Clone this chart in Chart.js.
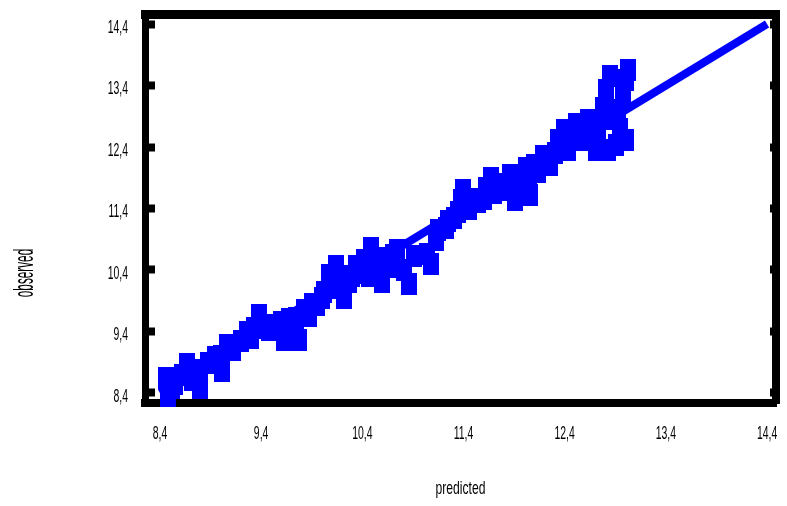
<!DOCTYPE html>
<html><head><meta charset="utf-8">
<script src="https://cdn.jsdelivr.net/npm/chart.js@4"></script>
<style>html,body{margin:0;padding:0;background:#fff;}</style>
</head><body>
<canvas id="c" width="787" height="506"></canvas>
<script>
// ---- data ----
const predicted = [8.459, 8.479, 8.518, 8.666, 8.715, 8.793, 8.793, 8.941, 9.010, 9.059,
  9.256, 9.334, 9.384, 9.482, 9.600, 9.629, 9.747, 9.777, 9.875, 9.954,
  10.023, 10.072, 10.102, 10.141, 10.220, 10.269, 10.338, 10.417, 10.466, 10.485,
  10.594, 10.623, 10.741, 10.810, 10.859, 10.908, 11.036, 11.076, 11.125, 11.223,
  11.302, 11.371, 11.400, 11.548, 11.627, 11.676, 11.794, 11.863, 11.912, 11.962,
  12.020, 12.059, 12.138, 12.187, 12.256, 12.335, 12.394, 12.433, 12.512, 12.580,
  12.630, 12.708, 12.728, 12.777, 12.807, 12.826, 12.846, 12.905, 12.925, 12.974,
  13.003, 13.003, 13.023,
  8.55, 8.62, 8.88, 9.00, 9.12, 9.20, 9.30, 9.45, 9.55, 9.68,
  9.82, 9.90, 10.00, 10.10, 10.18, 10.30, 10.38, 10.50, 10.55, 10.65,
  10.70, 11.15, 11.25, 11.35, 11.45, 11.52, 11.60, 11.70, 11.75, 11.85,
  11.95, 12.05, 12.10, 12.20, 12.30, 12.40, 12.45, 12.55, 12.65, 12.70,
  12.85, 12.90, 12.95];
const observed = [8.644, 8.351, 8.481, 8.872, 8.611, 8.774, 8.481, 8.985, 8.758, 9.180,
  9.392, 9.457, 9.668, 9.424, 9.555, 9.262, 9.620, 9.262, 9.652, 9.831,
  10.042, 10.319, 10.107, 10.465, 9.945, 10.205, 10.465, 10.563, 10.302, 10.758,
  10.205, 10.595, 10.725, 10.400, 10.172, 10.628, 10.660, 10.498, 10.888, 11.083,
  11.246, 11.538, 11.701, 11.506, 11.733, 11.896, 11.701, 11.945, 11.538, 11.798,
  12.059, 11.619, 11.994, 12.254, 12.107, 12.514, 12.677, 12.351, 12.774, 12.514,
  12.839, 12.351, 12.709, 13.034, 13.327, 12.351, 13.554, 12.432, 12.872, 13.197,
  13.489, 12.514, 13.652,
  8.55, 8.70, 8.88, 9.00, 9.10, 9.25, 9.30, 9.50, 9.45, 9.60,
  9.75, 9.85, 9.95, 10.10, 10.22, 10.30, 10.35, 10.45, 10.55, 10.45,
  10.65, 11.05, 11.20, 11.35, 11.40, 11.55, 11.55, 11.65, 11.80, 11.75,
  11.95, 11.90, 12.10, 12.15, 12.30, 12.40, 12.55, 12.60, 12.65, 12.55,
  12.85, 13.00, 12.70];
const fitLineX = [8.4, 14.4];
const fitLineY = [8.4, 14.4];
const xTickValues = [8.4, 9.4, 10.4, 11.4, 12.4, 13.4, 14.4];
const yTickValues = [8.4, 9.4, 10.4, 11.4, 12.4, 13.4, 14.4];
const xTickLabels = ['8,4', '9,4', '10,4', '11,4', '12,4', '13,4', '14,4'];
const yTickLabels = ['8,4', '9,4', '10,4', '11,4', '12,4', '13,4', '14,4'];
const xTitle = 'predicted';
const yTitle = 'observed';

// ---- styling ----
const FONT = "'Liberation Sans', Arial, sans-serif";
const BLUE = '#0000ff';
const X_MIN = 8.2525, X_MAX = 14.4885, Y_MIN = 8.237, Y_MAX = 14.563;

const marker = document.createElement('canvas');
marker.width = 16; marker.height = 22;
const mctx = marker.getContext('2d');
mctx.fillStyle = BLUE; mctx.fillRect(0, 0, 16, 22);

const canvas = document.getElementById('c');
const ctx2d = canvas.getContext('2d');
const nativeFill = CanvasRenderingContext2D.prototype.fillText;
// narrow (condensed) rendering of the axis texts
ctx2d.fillText = function (t, x, y) {
  const sx = this.font.indexOf('19px') >= 0 ? 0.64 : 0.58;
  this.save();
  this.translate(x, y);
  this.scale(sx, 1);
  nativeFill.call(this, t, 0, 0);
  this.restore();
};

const yTitlePlugin = {
  id: 'yTitle',
  afterDraw(chart) {
    const c = chart.ctx;
    c.save();
    c.translate(25, 273);
    c.rotate(-Math.PI / 2);
    c.scale(0.42, 1);
    c.font = "28px " + FONT;
    c.fillStyle = '#000';
    c.textAlign = 'center';
    c.textBaseline = 'middle';
    nativeFill.call(c, yTitle, 0, 0);
    c.restore();
  }
};

const setX = s => { s.ticks = xTickValues.map(v => ({ value: v })); };
const setY = s => { s.ticks = yTickValues.map(v => ({ value: v })); };
const fitH = h => s => { s.height = h; s.paddingLeft = 0; s.paddingRight = 0; s.paddingTop = 0; s.paddingBottom = 0; };
const fitW = w => s => { s.width = w; s.paddingLeft = 0; s.paddingRight = 0; s.paddingTop = 0; s.paddingBottom = 0; };

new Chart(canvas, {
  type: 'scatter',
  data: {
    datasets: [
      {
        label: 'observed',
        data: predicted.map((x, i) => ({ x: x, y: observed[i] })),
        pointStyle: marker,
        pointRadius: 11,
        backgroundColor: BLUE,
        borderWidth: 0,
        clip: false,
        order: 1
      },
      {
        label: 'fit',
        data: fitLineX.map((x, i) => ({ x: x, y: fitLineY[i] })),
        showLine: true,
        borderColor: BLUE,
        borderWidth: 8,
        borderCapStyle: 'butt',
        pointRadius: 0,
        order: 3
      }
    ]
  },
  options: {
    responsive: false,
    animation: false,
    devicePixelRatio: 1,
    layout: { padding: 0 },
    plugins: { legend: { display: false }, tooltip: { enabled: false } },
    scales: {
      x: {
        type: 'linear', position: 'bottom', min: X_MIN, max: X_MAX, bounds: 'data',
        afterBuildTicks: setX,
        ticks: { callback: (v, i) => xTickLabels[i], padding: 20, autoSkip: false, maxRotation: 0,
                 font: { family: FONT, size: 18 }, color: '#000' },
        grid: { drawOnChartArea: false, drawTicks: false },
        border: { display: true, color: '#000', width: 8 },
        title: { display: true, text: xTitle, color: '#000', font: { family: FONT, size: 19 }, padding: { top: 0, bottom: 6 } },
        afterFit: fitH(103)
      },
      x2: {
        type: 'linear', position: 'top', min: X_MIN, max: X_MAX, bounds: 'data',
        afterBuildTicks: setX,
        ticks: { display: false },
        grid: { drawOnChartArea: false, drawTicks: false },
        border: { display: true, color: '#000', width: 9 },
        afterFit: fitH(14)
      },
      y: {
        type: 'linear', position: 'left', min: Y_MIN, max: Y_MAX, bounds: 'data',
        afterBuildTicks: setY,
        ticks: { callback: (v, i) => yTickLabels[i], padding: 27, labelOffset: 4, autoSkip: false,
                 font: { family: FONT, size: 18 }, color: '#000' },
        grid: { drawOnChartArea: false, drawTicks: true, tickLength: -10, tickWidth: 8, tickColor: '#000' },
        border: { display: true, color: '#000', width: 7 },
        afterFit: fitW(145)
      },
      y2: {
        type: 'linear', position: 'right', min: Y_MIN, max: Y_MAX, bounds: 'data',
        afterBuildTicks: setY,
        ticks: { display: false },
        grid: { drawOnChartArea: false, drawTicks: true, tickLength: -6, tickWidth: 8, tickColor: '#000' },
        border: { display: true, color: '#000', width: 8 },
        afterFit: fitW(8)
      }
    }
  },
  plugins: [yTitlePlugin]
});
</script>
</body></html>
